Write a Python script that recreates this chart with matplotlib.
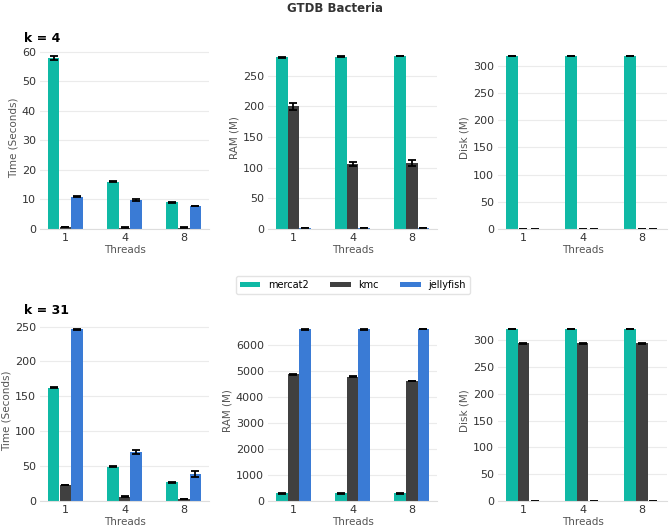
import matplotlib
matplotlib.use("Agg")
import matplotlib.pyplot as plt
import numpy as np

threads = ["1", "4", "8"]
tools = ["mercat2", "kmc", "jellyfish"]
colors = ["#0fb9a5", "#404040", "#3a7bd5"]

# k = 4
time_k4 = {"mercat2": [58.0, 16.0, 9.0], "kmc": [0.7, 0.5, 0.5], "jellyfish": [10.9, 9.8, 7.8]}
time_k4_err = {"mercat2": [0.7, 0.1, 0.1], "kmc": [0.1, 0.1, 0.1], "jellyfish": [0.2, 0.2, 0.1]}
ram_k4 = {"mercat2": [280, 281, 282], "kmc": [200, 106, 108], "jellyfish": [2, 2, 2]}
ram_k4_err = {"mercat2": [0.5, 0.5, 0.5], "kmc": [6, 3, 5], "jellyfish": [0.3, 0.3, 0.3]}
disk_k4 = {"mercat2": [318, 318, 318], "kmc": [0.5, 0.5, 0.5], "jellyfish": [0.5, 0.5, 0.5]}
disk_k4_err = {"mercat2": [0.5, 0.5, 0.5], "kmc": [0.0, 0.0, 0.0], "jellyfish": [0.0, 0.0, 0.0]}

# k = 31
time_k31 = {"mercat2": [162, 49, 27], "kmc": [23, 6, 3], "jellyfish": [246, 70, 39]}
time_k31_err = {"mercat2": [0.8, 0.5, 0.5], "kmc": [0.5, 0.5, 0.3], "jellyfish": [1.0, 3.0, 4.0]}
ram_k31 = {"mercat2": [290, 290, 290], "kmc": [4860, 4760, 4600], "jellyfish": [6580, 6580, 6600]}
ram_k31_err = {"mercat2": [5, 5, 5], "kmc": [15, 20, 15], "jellyfish": [10, 10, 10]}
disk_k31 = {"mercat2": [321, 321, 321], "kmc": [294, 294, 294], "jellyfish": [0.5, 0.5, 0.5]}
disk_k31_err = {"mercat2": [0.5, 0.5, 0.5], "kmc": [0.5, 0.5, 0.5], "jellyfish": [0.0, 0.0, 0.0]}

fig = plt.figure(figsize=(6.7, 5.29), dpi=100)
plt.rcParams['font.family'] = ['DejaVu Sans']

lefts = [40 / 670, 268 / 670, 498 / 670]
width = 169 / 670
rows = [(1 - 229 / 529, (229 - 47) / 529), (1 - 501 / 529, (501 - 320) / 529)]

panels = [
    [(time_k4, time_k4_err, "Time (Seconds)"), (ram_k4, ram_k4_err, "RAM (M)"), (disk_k4, disk_k4_err, "Disk (M)")],
    [(time_k31, time_k31_err, "Time (Seconds)"), (ram_k31, ram_k31_err, "RAM (M)"), (disk_k31, disk_k31_err, "Disk (M)")],
]

x = np.arange(len(threads))
bw = 0.2
handles = None
for r, (bottom, height) in enumerate(rows):
    for c in range(3):
        data, err, ylabel = panels[r][c]
        ax = fig.add_axes([lefts[c], bottom, width, height])
        hs = []
        for i, t in enumerate(tools):
            b = ax.bar(x + (i - 1) * bw, data[t], bw, color=colors[i], label=t,
                       yerr=err[t], capsize=3,
                       error_kw=dict(ecolor="black", elinewidth=1.3, capthick=1.3), zorder=2)
            hs.append(b)
        handles = hs
        ax.set_xticks(x)
        ax.set_xticklabels(threads)
        ax.set_ylabel(ylabel, fontsize=7.5, color="#555555", labelpad=2)
        ax.set_xlabel("Threads", fontsize=7.5, color="#555555", labelpad=1)
        ax.tick_params(axis="both", labelsize=8, colors="#333333", length=0, pad=3)
        ax.yaxis.grid(True, color="#ebebeb", linewidth=0.8, zorder=0)
        ax.set_axisbelow(True)
        for s in ["top", "right", "left"]:
            ax.spines[s].set_visible(False)
        ax.spines["bottom"].set_color("#dddddd")
        ax.spines["bottom"].set_linewidth(0.8)

fig.text(0.5, 1 - 8 / 529, "GTDB Bacteria", ha="center", va="center", fontsize=8.5, fontweight="bold", color="#333333")
fig.text(24 / 670, 1 - 38 / 529, "k = 4", ha="left", va="center", fontsize=9, fontweight="bold")
fig.text(24 / 670, 1 - 310 / 529, "k = 31", ha="left", va="center", fontsize=9, fontweight="bold")

fig.legend(handles, tools, loc="center", bbox_to_anchor=(353 / 670, 1 - 285 / 529), ncol=3,
           fontsize=7, frameon=True, edgecolor="#dddddd", fancybox=True,
           handlelength=2.1, handleheight=0.5, handletextpad=0.8, columnspacing=2.2, borderpad=0.45)

fig.savefig("out.png", dpi=100)
